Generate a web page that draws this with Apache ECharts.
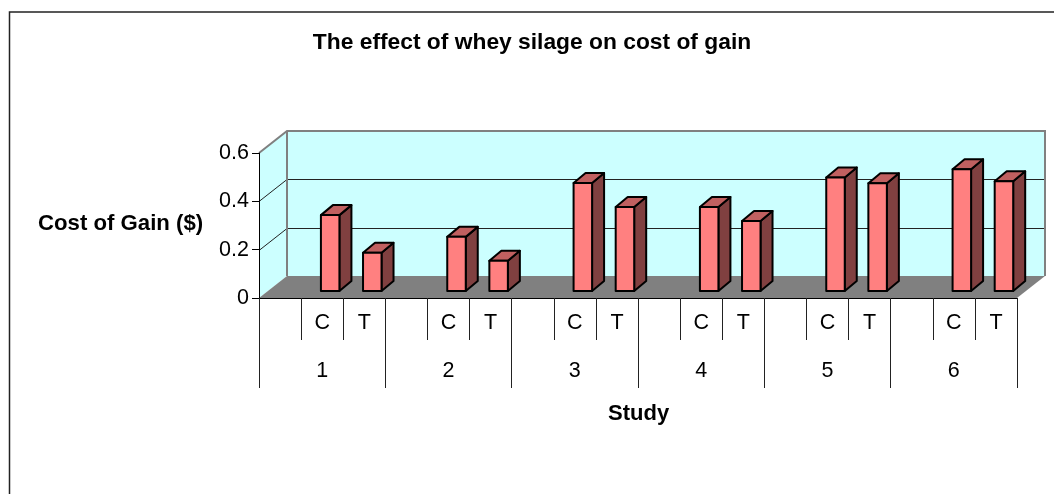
<!DOCTYPE html>
<html>
<head>
<meta charset="utf-8">
<style>
html,body{margin:0;padding:0;background:#fff}
#main{width:1054px;height:494px}
</style>
<script src="https://cdn.jsdelivr.net/npm/echarts@6/dist/echarts.min.js"></script>
</head>
<body>
<div id="main"></div>
<script>
var studies = ['1', '2', '3', '4', '5', '6'];
var groupLabels = ['', 'C', 'T', '', 'C', 'T', '', 'C', 'T', '', 'C', 'T', '', 'C', 'T', '', 'C', 'T'];
var costValues = [null, 0.314, 0.158, null, 0.224, 0.125, null, 0.447, 0.348, null, 0.348, 0.29, null, 0.47, 0.446, null, 0.504, 0.454];
var yTicks = [0, 0.2, 0.4, 0.6];

// depth of the fake 3d box, in px
var DX = 28, DY = 22;
// where a bar sits inside the box and how deep it is
var BAR_W = 18.5, BAR_OX = 8, BAR_OY = 7, BAR_DX = 12, BAR_DY = 10;
var FONT = 'Liberation Sans';

function renderBox(params, api) {
	var cs = params.coordSys;
	var xl = cs.x, xr = cs.x + cs.width;
	var yb = api.coord([0, 0])[1];
	var yt = api.coord([0, 0.6])[1];
	var kids = [
		{type: 'polygon', shape: {points: [[xl, yb], [xl + DX, yb - DY], [xl + DX, yt - DY], [xl, yt]]},
			style: {fill: '#CCFFFF', stroke: null}},
		{type: 'rect', shape: {x: xl + DX, y: yt - DY, width: cs.width, height: yb - yt},
			style: {fill: '#CCFFFF', stroke: null}},
		{type: 'polygon', shape: {points: [[xl, yb], [xr, yb], [xr + DX, yb - DY], [xl + DX, yb - DY]]},
			style: {fill: '#808080', stroke: null}}
	];
	yTicks.forEach(function (t) {
		if (t === 0 || t === 0.6) return;
		var y = Math.round(api.coord([0, t])[1]) + 0.5;
		kids.push({type: 'polyline', shape: {points: [[xl, y], [xl + DX, y - DY], [xr + DX, y - DY]]},
			style: {fill: null, stroke: '#222', lineWidth: 1}});
	});
	kids.push({type: 'polyline', shape: {points: [[xl, yt], [xl + DX, yt - DY], [xr + DX, yt - DY], [xr + DX, yb - DY]]},
		style: {fill: null, stroke: '#808080', lineWidth: 2}});
	kids.push({type: 'line', shape: {x1: xl + DX, y1: yt - DY, x2: xl + DX, y2: yb - DY},
		style: {stroke: '#808080', lineWidth: 2}});
	return {type: 'group', children: kids};
}

function renderBar(params, api) {
	var v = api.value(1);
	if (v == null || isNaN(v)) return null;
	var base = api.coord([api.value(0), 0]);
	var top = api.coord([api.value(0), v]);
	var x0 = base[0] + BAR_OX - BAR_W / 2, x1 = x0 + BAR_W;
	var y0 = base[1] - BAR_OY, y1 = top[1] - BAR_OY;
	var line = {stroke: '#000', lineWidth: 2, lineJoin: 'round'};
	return {type: 'group', children: [
		{type: 'polygon', shape: {points: [[x1, y0], [x1 + BAR_DX, y0 - BAR_DY], [x1 + BAR_DX, y1 - BAR_DY], [x1, y1]]},
			style: Object.assign({fill: '#804040'}, line)},
		{type: 'polygon', shape: {points: [[x0, y1], [x1, y1], [x1 + BAR_DX, y1 - BAR_DY], [x0 + BAR_DX, y1 - BAR_DY]]},
			style: Object.assign({fill: '#C06060'}, line)},
		{type: 'rect', shape: {x: x0, y: y1, width: BAR_W, height: y0 - y1},
			style: Object.assign({fill: '#FF8080'}, line)}
	]};
}

var chart = echarts.init(document.getElementById('main'));
chart.setOption({
	animation: false,
	backgroundColor: '#fff',
	textStyle: {fontFamily: FONT},
	title: {
		text: 'The effect of whey silage on cost of gain',
		left: 527, top: 26, textAlign: 'center',
		textStyle: {fontFamily: FONT, fontSize: 22.8, fontWeight: 'bold', color: '#000'}
	},
	graphic: [
		{type: 'polyline', silent: true, shape: {points: [[9.5, 500], [9.5, 12], [1060, 12]]},
			style: {fill: null, stroke: '#222', lineWidth: 1.5}},
		{type: 'text', left: 38, top: 213, silent: true,
			style: {text: 'Cost of Gain ($)', fontFamily: FONT, fontSize: 22.2, fontWeight: 'bold', fill: '#000'}},
		{type: 'text', left: 608, top: 403, silent: true,
			style: {text: 'Study', fontFamily: FONT, fontSize: 22, fontWeight: 'bold', fill: '#000'}}
	],
	grid: {left: 259, right: 37, top: 153, height: 145, containLabel: false},
	xAxis: [
		{
			type: 'category', data: groupLabels, position: 'bottom',
			axisLine: {show: true, lineStyle: {color: '#000', width: 1}},
			axisTick: {show: true, length: 42, lineStyle: {color: '#222'}},
			axisLabel: {interval: 0, margin: 14, fontSize: 21.5, color: '#000', fontFamily: FONT}
		},
		{
			type: 'category', data: studies, position: 'bottom',
			axisLine: {show: false},
			axisTick: {show: true, length: 90, lineStyle: {color: '#222'}},
			axisLabel: {interval: 0, margin: 62, fontSize: 21.5, color: '#000', fontFamily: FONT}
		}
	],
	yAxis: {
		type: 'value', min: 0, max: 0.6, interval: 0.2,
		axisLine: {show: true, lineStyle: {color: '#000', width: 1}},
		axisTick: {show: true, length: 7, lineStyle: {color: '#000'}},
		splitLine: {show: false},
		axisLabel: {margin: 10, fontSize: 21.5, color: '#000', fontFamily: FONT, formatter: function (v) {
			return v === 0 ? '0' : v.toFixed(1);
		}}
	},
	series: [
		{type: 'custom', z: 0, clip: false, renderItem: renderBox, data: [[0, 0]], silent: true},
		{type: 'custom', z: 3, clip: false, renderItem: renderBar, encode: {x: 0, y: 1},
			data: costValues.map(function (v, i) { return [i, v]; })}
	]
});
</script>
</body>
</html>
